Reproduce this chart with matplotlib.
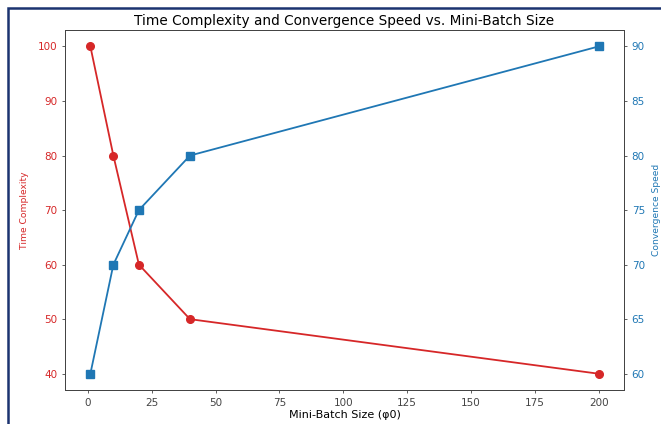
import matplotlib.pyplot as plt
from matplotlib.patches import Rectangle

batch_sizes = [1, 10, 20, 40, 200]
time_complexity = [100, 80, 60, 50, 40]
convergence_speed = [60, 70, 75, 80, 90]

RED = "#d62728"
BLUE = "#1f77b4"

plt.rcParams["font.family"] = ["DejaVu Sans"]

fig = plt.figure(figsize=(6.61, 4.24), dpi=100)
ax1 = fig.add_axes([0.0983, 0.080, 0.8457, 0.849])

ax1.plot(batch_sizes, time_complexity, color=RED, marker="o", markersize=5.5, linewidth=1.3)
ax1.set_xlabel("Mini-Batch Size (φ0)", fontsize=8, labelpad=2)
ax1.set_ylabel("Time Complexity", color=RED, fontsize=6.6, labelpad=6)

ax2 = ax1.twinx()
ax2.plot(batch_sizes, convergence_speed, color=BLUE, marker="s", markersize=5.5, linewidth=1.3)
ax2.set_ylabel("Convergence Speed", color=BLUE, fontsize=6.6, labelpad=5)

for ax in (ax1, ax2):
    ax.tick_params(labelsize=7.5, length=2.5, width=0.6, colors="#444444", pad=3)
    for s in ax.spines.values():
        s.set_linewidth(0.7)
        s.set_color("#444444")
ax1.tick_params(axis="y", labelcolor=RED)
ax2.tick_params(axis="y", labelcolor=BLUE)

ax1.set_title("Time Complexity and Convergence Speed vs. Mini-Batch Size", fontsize=9.8, pad=4)

# dark frame around the screenshot (left and top edges visible)
border = Rectangle((8 / 661, -0.2), 1.2, 1.2 - 8 / 424, transform=fig.transFigure,
                   fill=False, edgecolor="#1b3370", linewidth=1.8, clip_on=False)
fig.patches.append(border)

fig.savefig("out.png", dpi=100)
